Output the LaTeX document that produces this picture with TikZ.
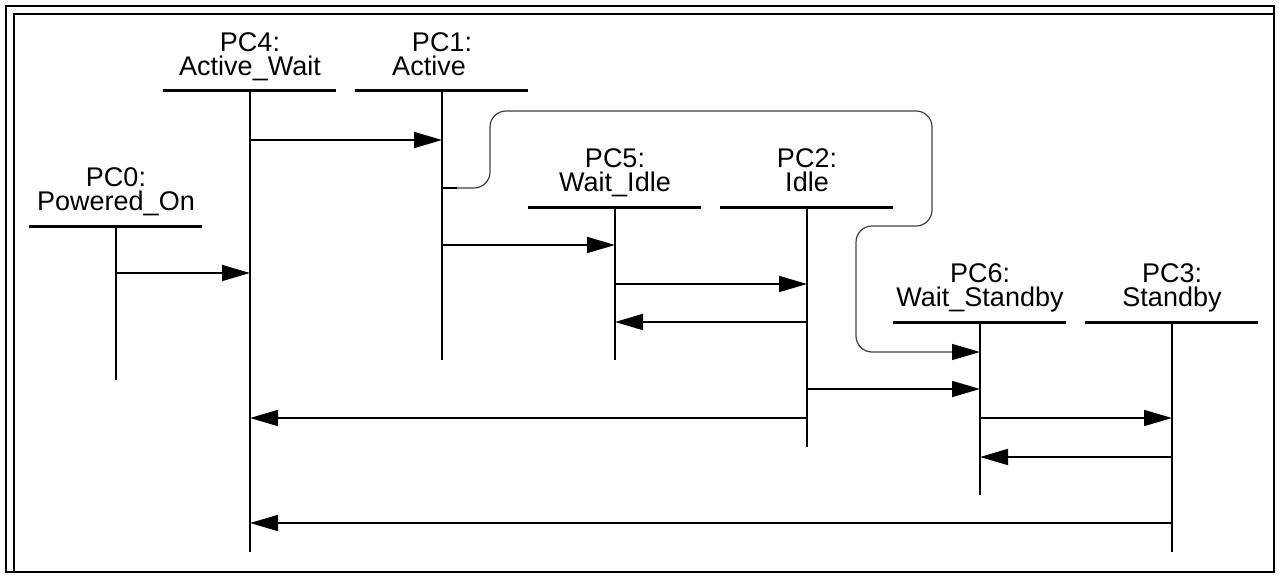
\documentclass[tikz,border=0pt]{standalone}
\usepackage{fontspec}
\setmainfont{Liberation Sans}
\usetikzlibrary{arrows.meta}
\tikzset{
  lbl/.style={anchor=north, inner sep=0pt, align=center,
    font=\fontsize{27}{24}\selectfont},
  hbar/.style={line width=3pt},
  life/.style={line width=1.8pt},
  msg/.style={line width=1.8pt, -{Triangle[length=28pt,width=16pt]}},
  loopline/.style={line width=1.2pt, draw=black!75, rounded corners=16pt,
    -{Triangle[length=28pt,width=16pt,color=black]}},
  frameline/.style={line width=2pt}
}
% name, x, bar y, bottom y, label text
\newcommand\lifeln[5]{%
  \node[lbl] (#1h) at (#2,#3-58.5) {#5};
  \coordinate (#1) at (#2,#3);
  \coordinate (#1e) at (#2,#4);
  \draw[hbar] ([xshift=-87pt]#1) -- ([xshift=86pt]#1);
  \draw[life] (#1) -- (#1e);
}
\begin{document}
\begin{tikzpicture}[x=1pt,y=-1pt]
\useasboundingbox (0,0) rectangle (1279,575);
\draw[frameline] (6,6) rectangle (1274,572);
\draw[frameline] (14,572) -- (14,14) -- (1274,14);

\lifeln{pc0}{116}{226}{380}{PC0:\\Powered\_On}
\lifeln{pc4}{250}{91}{552}{PC4:\\Active\_Wait}
\lifeln{pc1}{442}{91}{360}{PC1:\\Active\hbox to 26pt{}}
\lifeln{pc5}{615}{207}{360}{PC5:\\Wait\_Idle}
\lifeln{pc2}{807}{207}{447}{PC2:\\Idle}
\lifeln{pc6}{980}{322}{495}{PC6:\\Wait\_Standby}
\lifeln{pc3}{1172}{322}{552}{PC3:\\Standby}

\draw[msg] (pc4 |- 0,140) -- (pc1 |- 0,140);
\draw[msg] (pc0 |- 0,273) -- (pc4 |- 0,273);
\draw[msg] (pc1 |- 0,245) -- (pc5 |- 0,245);
\draw[msg] (pc5 |- 0,284) -- (pc2 |- 0,284);
\draw[msg] (pc2 |- 0,322) -- (pc5 |- 0,322);
\draw[msg] (pc2 |- 0,389) -- (pc6 |- 0,389);
\draw[msg] (pc2 |- 0,418) -- (pc4 |- 0,418);
\draw[msg] (pc6 |- 0,418) -- (pc3 |- 0,418);
\draw[msg] (pc3 |- 0,457) -- (pc6 |- 0,457);
\draw[msg] (pc3 |- 0,523) -- (pc4 |- 0,523);

\coordinate (lp) at (457,188);
\draw[life] (pc1 |- lp) -- (lp);
\draw[loopline] (lp) -- (490,188) -- (490,111) -- (932,111) -- (932,226)
  -- (856,226) -- (856,352) -- (pc6 |- 0,352);
\end{tikzpicture}
\end{document}
